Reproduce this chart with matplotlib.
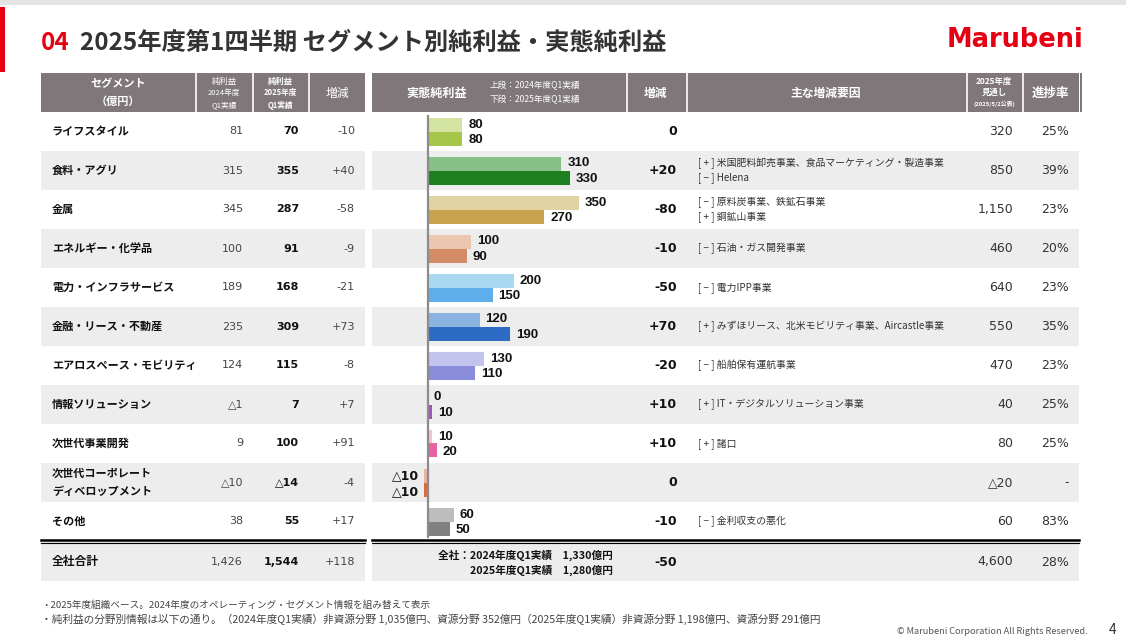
import matplotlib
matplotlib.use('Agg')
import matplotlib.pyplot as plt
from matplotlib.patches import Rectangle

plt.rcParams['font.family'] = ['Noto Sans CJK JP', 'DejaVu Sans']

# データ
segments = ['ライフスタイル', '食料・アグリ', '金属', 'エネルギー・化学品', '電力・インフラサービス',
            '金融・リース・不動産', 'エアロスペース・モビリティ', '情報ソリューション', '次世代事業開発',
            '次世代コーポレート\nディベロップメント', 'その他']
ni_2024 = ['81', '315', '345', '100', '189', '235', '124', '△1', '9', '△10', '38']
ni_2025 = ['70', '355', '287', '91', '168', '309', '115', '7', '100', '△14', '55']
ni_diff = ['-10', '+40', '-58', '-9', '-21', '+73', '-8', '+7', '+91', '-4', '+17']
core_2024 = [80, 310, 350, 100, 200, 120, 130, 0, 10, -10, 60]
core_2025 = [80, 330, 270, 90, 150, 190, 110, 10, 20, -10, 50]
core_diff = ['0', '+20', '-80', '-10', '-50', '+70', '-20', '+10', '+10', '0', '-10']
factors = [[],
           ['[ + ] 米国肥料卸売事業、食品マーケティング・製造事業', '[ − ] Helena'],
           ['[ − ] 原料炭事業、鉄鉱石事業', '[ + ] 銅鉱山事業'],
           ['[ − ] 石油・ガス開発事業'],
           ['[ − ] 電力IPP事業'],
           ['[ + ] みずほリース、北米モビリティ事業、Aircastle事業'],
           ['[ − ] 船舶保有運航事業'],
           ['[ + ] IT・デジタルソリューション事業'],
           ['[ + ] 諸口'],
           [],
           ['[ − ] 金利収支の悪化']]
outlook = ['320', '850', '1,150', '460', '640', '550', '470', '40', '80', '△20', '60']
progress = ['25%', '39%', '23%', '20%', '23%', '35%', '23%', '25%', '25%', '-', '83%']
total_left = ['全社合計', '1,426', '1,544', '+118']
total_core = ['全社：2024年度Q1実績　1,330億円', '2025年度Q1実績　1,280億円']
total_core_diff = '-50'
total_outlook = '4,600'
total_progress = '28%'

colors_2024 = ['#D3E3A2', '#86C087', '#E2D3A3', '#EBC7B2', '#A9D9F2', '#8AB4DF', '#C2C4EE',
               '#D9B3E8', '#F5C2D3', '#EBB4A2', '#BDBDBD']
colors_2025 = ['#A6C64A', '#1E7F21', '#C9A24F', '#D38C65', '#5DAEEA', '#2D6CC5', '#898DDB',
               '#A450C9', '#E862A2', '#D96B40', '#808080']

W, H = 1126, 643
fig = plt.figure(figsize=(W / 100, H / 100), dpi=100)
ax = fig.add_axes([0, 0, 1, 1])
ax.set_xlim(0, W)
ax.set_ylim(H, 0)
ax.axis('off')

HEAD = '#7F7779'
SHADE = '#EDEDED'
NUM = 'DejaVu Sans'

# 上部の帯とタイトル
ax.add_patch(Rectangle((0, 0), W, 5, color='#E4E4E4', lw=0))
ax.add_patch(Rectangle((0, 7), 5, 65, color='#E50012', lw=0))
ax.text(41, 43, '04', color='#E50012', fontsize=17.5, fontweight='bold', va='center')
ax.text(80, 43, '2025年度第1四半期 セグメント別純利益・実態純利益', color='#333333',
        fontsize=17.5, fontweight='bold', va='center')
ax.text(1083, 40, 'Marubeni', color='#E50012', fontsize=18.5, fontweight='heavy',
        family='DejaVu Sans', va='center', ha='right')

# 表の行
row_top, row_h = 112, 39
n = len(segments)
for i in range(n):
    y0 = row_top + i * row_h
    if i % 2 == 1:
        ax.add_patch(Rectangle((41, y0), 324, row_h, color=SHADE, lw=0))
        ax.add_patch(Rectangle((372, y0), 707, row_h, color=SHADE, lw=0))
y_end = row_top + n * row_h
for x0, x1 in [(41, 365), (372, 1079)]:
    ax.plot([x0, x1], [y_end - 1.5, y_end - 1.5], color='black', lw=1.8)
    ax.plot([x0, x1], [y_end + 2, y_end + 2], color='black', lw=0.9)
    ax.add_patch(Rectangle((x0, y_end + 3.5), x1 - x0, 36, color=SHADE, lw=0))

# ヘッダー
ax.add_patch(Rectangle((41, 73), 324, 39, color=HEAD, lw=0))
ax.add_patch(Rectangle((372, 73), 707, 39, color=HEAD, lw=0))
ax.add_patch(Rectangle((1080, 73), 2, 39, color=HEAD, lw=0))
for xs in [196, 252.5, 308.5, 626.5, 686.5, 966.5, 1022.5]:
    ax.plot([xs, xs], [73, 112], color='white', lw=1.2)
ax.text(118, 84, 'セグメント', color='white', fontsize=8, fontweight='bold', ha='center', va='center')
ax.text(118, 101, '（億円）', color='white', fontsize=8, fontweight='bold', ha='center', va='center')
for j, t in enumerate(['純利益', '2024年度', 'Q1実績']):
    ax.text(224, 81 + j * 12, t, color='white', fontsize=6 if j == 0 else 5.5, ha='center', va='center')
    ax.text(280, 81 + j * 12, t.replace('2024', '2025'), color='white', fontsize=6 if j == 0 else 5.5,
            fontweight='bold', ha='center', va='center')
ax.text(337, 93, '増減', color='white', fontsize=8.5, ha='center', va='center')
ax.text(437, 93, '実態純利益', color='white', fontsize=8.7, fontweight='bold', ha='center', va='center')
ax.text(490, 86, '上段：2024年度Q1実績', color='white', fontsize=6.2, va='center')
ax.text(490, 100, '下段：2025年度Q1実績', color='white', fontsize=6.2, va='center')
ax.text(656, 93, '増減', color='white', fontsize=8.5, fontweight='bold', ha='center', va='center')
ax.text(826, 93, '主な増減要因', color='white', fontsize=8.5, fontweight='bold', ha='center', va='center')
ax.text(994, 81, '2025年度', color='white', fontsize=6, fontweight='bold', ha='center', va='center')
ax.text(994, 92, '見通し', color='white', fontsize=6, fontweight='bold', ha='center', va='center')
ax.text(994, 104, '(2025/5/2公表)', color='white', fontsize=4.2, fontweight='bold', ha='center', va='center')
ax.text(1050, 93, '進捗率', color='white', fontsize=9, fontweight='bold', ha='center', va='center')

# 表の中身
for i in range(n):
    yc = row_top + i * row_h + row_h / 2
    ax.text(52, yc, segments[i], fontsize=8, fontweight='bold', color='#111111', va='center',
            linespacing=1.45)
    ax.text(243, yc, ni_2024[i], fontsize=8, family=NUM, color='#444444', ha='right', va='center')
    ax.text(299, yc, ni_2025[i], fontsize=8, family=NUM, fontweight='bold', color='#111111',
            ha='right', va='center')
    ax.text(355, yc, ni_diff[i], fontsize=8, family=NUM, color='#444444', ha='right', va='center')
    ax.text(677, yc, core_diff[i], fontsize=9, family=NUM, fontweight='bold', color='#111111',
            ha='right', va='center')
    fl = factors[i]
    for k, t in enumerate(fl):
        dy = 0 if len(fl) == 1 else (k - 0.5) * 15
        ax.text(698, yc + dy, t, fontsize=7.1, color='#333333', va='center')
    ax.text(1013, yc, outlook[i], fontsize=9, family=NUM, color='#333333', ha='right', va='center')
    ax.text(1069, yc, progress[i], fontsize=9, family=NUM, color='#333333', ha='right', va='center')

yt = y_end + 21
ax.text(52, yt, total_left[0], fontsize=8.5, fontweight='bold', color='#111111', va='center')
ax.text(243, yt, total_left[1], fontsize=8, family=NUM, color='#444444', ha='right', va='center')
ax.text(299, yt, total_left[2], fontsize=8, family=NUM, fontweight='bold', color='#111111',
        ha='right', va='center')
ax.text(355, yt, total_left[3], fontsize=8, family=NUM, color='#444444', ha='right', va='center')
ax.text(613, yt - 7, total_core[0], fontsize=7.7, fontweight='bold', color='#111111', ha='right', va='center')
ax.text(613, yt + 8, total_core[1], fontsize=7.7, fontweight='bold', color='#111111', ha='right', va='center')
ax.text(677, yt, total_core_diff, fontsize=9, family=NUM, fontweight='bold', color='#111111',
        ha='right', va='center')
ax.text(1013, yt, total_outlook, fontsize=9, family=NUM, color='#333333', ha='right', va='center')
ax.text(1069, yt, total_progress, fontsize=9, family=NUM, color='#333333', ha='right', va='center')

# 脚注
ax.text(41, 605, '・2025年度組織ベース。2024年度のオペレーティング・セグメント情報を組み替えて表示',
        fontsize=6.9, color='#444444', va='center')
ax.text(41, 619, '・純利益の分野別情報は以下の通り。（2024年度Q1実績）非資源分野 1,035億円、資源分野 352億円'
        '（2025年度Q1実績）非資源分野 1,198億円、資源分野 291億円',
        fontsize=7.7, color='#444444', va='center')
ax.text(1088, 632, '© Marubeni Corporation All Rights Reserved.', fontsize=6.6, color='#555555',
        ha='right', va='center')
ax.text(1113, 630, '4', fontsize=10, color='#333333', ha='center', va='center')

# 実態純利益の棒グラフ
zero_px, px_per = 428, 0.43
bx = fig.add_axes([372 / W, (H - y_end) / H, (626 - 372) / W, (y_end - row_top) / H])
bx.patch.set_visible(False)
bx.set_xlim(-(zero_px - 372) / px_per, (626 - zero_px) / px_per)
bx.set_ylim(n - 0.5, -0.5)
bx.axis('off')
pos = list(range(n))
off = 7 / row_h
bx.barh([p - off for p in pos], core_2024, height=2 * off, color=colors_2024, lw=0)
bx.barh([p + off for p in pos], core_2025, height=2 * off, color=colors_2025, lw=0)
bx.plot([0, 0], [-0.4, n - 0.6], color='#8C8C8C', lw=1.6)


def bar_label(v, y):
    if v < 0:
        bx.annotate('△' + str(-v), (v, y), xytext=(-3, 0), textcoords='offset points',
                    ha='right', va='center', fontsize=9, fontweight='bold', family=NUM, color='#111111')
    else:
        bx.annotate(str(v), (v, y), xytext=(4.3, 0), textcoords='offset points',
                    ha='left', va='center', fontsize=9.5, fontweight='bold',
                    family='Liberation Sans', color='#111111')


for p in pos:
    bar_label(core_2024[p], p - off)
    bar_label(core_2025[p], p + off + 0.05)

fig.savefig('out.png', dpi=100)
